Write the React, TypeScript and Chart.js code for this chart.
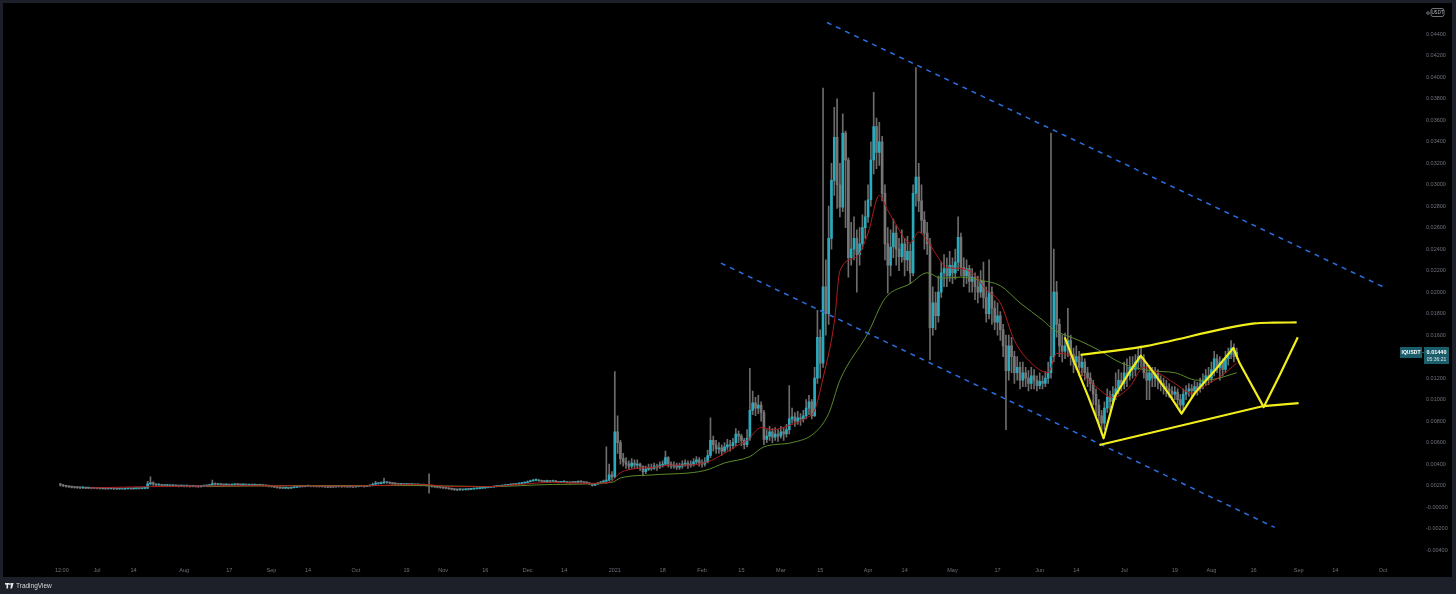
import React, { useEffect, useRef } from 'react';
import { Chart, registerables } from 'chart.js';

Chart.register(...registerables);

// ---- time axis (days since 2020-07-01) ----
const xTickDays = [-12.5, 0, 13, 31, 47, 62, 75, 92, 110, 123, 138, 153, 166, 184, 201, 215, 229, 243, 257, 274, 287, 304, 320, 335, 348, 365, 383, 396, 411, 427, 440, 457];
const xTickLabels = ['12:00', 'Jul', '14', 'Aug', '17', 'Sep', '14', 'Oct', '19', 'Nov', '16', 'Dec', '14', '2021', '18', 'Feb', '15', 'Mar', '15', 'Apr', '14', 'May', '17', 'Jun', '14', 'Jul', '19', 'Aug', '16', 'Sep', '14', 'Oct'];

const yTickValues = [-0.004, -0.002, 0, 0.002, 0.004, 0.006, 0.008, 0.010, 0.012, 0.014, 0.016, 0.018, 0.020, 0.022, 0.024, 0.026, 0.028, 0.030, 0.032, 0.034, 0.036, 0.038, 0.040, 0.042, 0.044];
const yTickLabels = ['-0.00400', '-0.00200', '-0.00000', '0.00200', '0.00400', '0.00600', '0.00800', '0.01000', '0.01200', '0.01400', '0.01600', '0.01800', '0.02000', '0.02200', '0.02400', '0.02600', '0.02800', '0.03000', '0.03200', '0.03400', '0.03600', '0.03800', '0.04000', '0.04200', '0.04400'];

// daily candles, day -13 .. 405
const firstDay = -13;
const firstOpen = 0.0021;
const closes = [
  0.00205, 0.00198, 0.00192, 0.00188, 0.00185, 0.00182, 0.00180, 0.00178, 0.00180, 0.00176,
  0.00178, 0.00175, 0.00177, 0.00174, 0.00172, 0.00174, 0.00171, 0.00170, 0.00172, 0.00169,
  0.00168, 0.00170, 0.00168, 0.00170, 0.00172, 0.00170, 0.00171, 0.00173, 0.00172, 0.00174,
  0.00175, 0.00215, 0.00225, 0.00212, 0.00205, 0.00208, 0.00202, 0.00200, 0.00203, 0.00198,
  0.00200, 0.00197, 0.00195, 0.00198, 0.00194, 0.00196, 0.00192, 0.00195, 0.00193, 0.00190,
  0.00194, 0.00196, 0.00200, 0.00205, 0.00218, 0.00210, 0.00212, 0.00208, 0.00206, 0.00209,
  0.00205, 0.00207, 0.00210, 0.00208, 0.00206, 0.00209, 0.00205, 0.00207, 0.00204, 0.00206,
  0.00203, 0.00205, 0.00200, 0.00198, 0.00195, 0.00190, 0.00186, 0.00182, 0.00178, 0.00176,
  0.00178, 0.00175, 0.00180, 0.00183, 0.00188, 0.00192, 0.00190, 0.00194, 0.00196, 0.00193,
  0.00195, 0.00192, 0.00190, 0.00193, 0.00188, 0.00186, 0.00189, 0.00187, 0.00190, 0.00192,
  0.00189, 0.00191, 0.00188, 0.00190, 0.00187, 0.00190, 0.00193, 0.00195, 0.00192, 0.00196,
  0.00200, 0.00212, 0.00222, 0.00218, 0.00225, 0.00232, 0.00228, 0.00224, 0.00218, 0.00215,
  0.00212, 0.00214, 0.00210, 0.00212, 0.00208, 0.00210, 0.00206, 0.00207, 0.00204, 0.00205,
  0.00202, 0.00195, 0.00192, 0.00188, 0.00184, 0.00182, 0.00178, 0.00175, 0.00170, 0.00166,
  0.00162, 0.00160, 0.00163, 0.00161, 0.00165, 0.00164, 0.00168, 0.00170, 0.00172, 0.00175,
  0.00178, 0.00180, 0.00184, 0.00186, 0.00190, 0.00193, 0.00196, 0.00198, 0.00202, 0.00205,
  0.00210, 0.00208, 0.00214, 0.00218, 0.00222, 0.00226, 0.00235, 0.00242, 0.00248, 0.00250,
  0.00245, 0.00240, 0.00236, 0.00242, 0.00238, 0.00244, 0.00235, 0.00230, 0.00233, 0.00236,
  0.00230, 0.00226, 0.00232, 0.00230, 0.00236, 0.00234, 0.00228, 0.00225, 0.00215, 0.00202,
  0.00212, 0.00222, 0.00232, 0.00240,
  0.0025, 0.0030, 0.0028, 0.0070, 0.0060, 0.0045, 0.0042, 0.0040, 0.0038, 0.0041,
  0.0039, 0.0040, 0.0038, 0.0033, 0.0035, 0.0037, 0.0036, 0.0038, 0.0037, 0.0039,
  0.0040, 0.0046, 0.0040, 0.0038, 0.0039, 0.0037, 0.0038, 0.0040, 0.0041, 0.0039,
  0.0040, 0.0042, 0.0044, 0.0041, 0.0040, 0.0042, 0.0048, 0.0062, 0.0058, 0.0054,
  0.0055, 0.0052, 0.0056, 0.0058, 0.0057, 0.0060, 0.0068, 0.0066, 0.0062, 0.0058,
  0.0064, 0.0090, 0.0097, 0.0092, 0.0095, 0.0088, 0.0063, 0.0066, 0.0070, 0.0065,
  0.0068, 0.0066, 0.0070, 0.0068, 0.0072, 0.0082, 0.0084, 0.0080, 0.0083, 0.0082,
  0.0085, 0.0092, 0.0098, 0.0085, 0.0120, 0.0158, 0.0134, 0.0205, 0.0180, 0.0250,
  0.0304, 0.0344, 0.0300, 0.0279, 0.0348, 0.0323, 0.0232, 0.0240, 0.0250, 0.0235,
  0.0245, 0.0260, 0.0270, 0.0286, 0.0323, 0.0354, 0.0330, 0.0340, 0.0292, 0.0245,
  0.0225, 0.0242, 0.0255, 0.0240, 0.0233, 0.0245, 0.0230, 0.0238, 0.0218, 0.0292,
  0.0307, 0.0285, 0.0267, 0.0255, 0.0245, 0.0167, 0.0190, 0.0178, 0.0200, 0.0218,
  0.0222, 0.0215, 0.0225, 0.0218, 0.0228, 0.0251, 0.0223, 0.0215, 0.0222, 0.0210,
  0.0214, 0.0205, 0.0200, 0.0210, 0.0195, 0.0180, 0.0200, 0.0185, 0.0172, 0.0178,
  0.0165, 0.0150, 0.0127, 0.0150, 0.0140, 0.0125, 0.0130, 0.0118, 0.0125, 0.0120,
  0.0115, 0.0122, 0.0118, 0.0113, 0.0117, 0.0115, 0.0120, 0.0125, 0.0140, 0.0200,
  0.0170, 0.0150, 0.0145, 0.0150, 0.0155, 0.0142, 0.0135, 0.0140, 0.0130, 0.0135,
  0.0125, 0.0120, 0.0115, 0.0105, 0.0095, 0.0085, 0.0078, 0.0092, 0.0102, 0.0098,
  0.0105, 0.0110, 0.0118, 0.0115, 0.0125, 0.0122, 0.0130, 0.0128, 0.0135, 0.0140,
  0.0138, 0.0125, 0.0118, 0.0125, 0.0120, 0.0124, 0.0118, 0.0115, 0.0112, 0.0110,
  0.0108, 0.0105, 0.0107, 0.0100, 0.0095, 0.0105, 0.0108, 0.0110, 0.0108, 0.0112,
  0.0110, 0.0115, 0.0118, 0.0122, 0.0120, 0.0128, 0.0138, 0.0130, 0.0135, 0.0128,
  0.0138, 0.0142, 0.0148, 0.0140, 0.0144,
];
const highs = [
  0.00220, 0.00210, 0.00200, 0.00195, 0.00192, 0.00190, 0.00186, 0.00185, 0.00186, 0.00184,
  0.00184, 0.00181, 0.00182, 0.00180, 0.00178, 0.00179, 0.00177, 0.00175, 0.00177, 0.00176,
  0.00173, 0.00175, 0.00174, 0.00175, 0.00177, 0.00176, 0.00176, 0.00178, 0.00178, 0.00179,
  0.00180, 0.00240, 0.00280, 0.00235, 0.00218, 0.00215, 0.00212, 0.00208, 0.00210, 0.00207,
  0.00206, 0.00205, 0.00202, 0.00204, 0.00202, 0.00202, 0.00200, 0.00201, 0.00200, 0.00198,
  0.00200, 0.00202, 0.00206, 0.00212, 0.00250, 0.00225, 0.00218, 0.00216, 0.00212, 0.00214,
  0.00212, 0.00213, 0.00216, 0.00215, 0.00212, 0.00214, 0.00213, 0.00212, 0.00211, 0.00212,
  0.00210, 0.00210, 0.00208, 0.00205, 0.00203, 0.00198, 0.00194, 0.00190, 0.00186, 0.00183,
  0.00184, 0.00183, 0.00186, 0.00189, 0.00194, 0.00198, 0.00197, 0.00199, 0.00202, 0.00200,
  0.00200, 0.00199, 0.00196, 0.00198, 0.00196, 0.00192, 0.00195, 0.00194, 0.00196, 0.00198,
  0.00196, 0.00197, 0.00195, 0.00196, 0.00194, 0.00196, 0.00199, 0.00201, 0.00200, 0.00202,
  0.00206, 0.00222, 0.00240, 0.00228, 0.00235, 0.00270, 0.00238, 0.00233, 0.00228, 0.00222,
  0.00220, 0.00220, 0.00218, 0.00218, 0.00216, 0.00216, 0.00214, 0.00213, 0.00212, 0.00212,
  0.00210, 0.00310, 0.00205, 0.00196, 0.00192, 0.00190, 0.00186, 0.00182, 0.00178, 0.00172,
  0.00170, 0.00167, 0.00170, 0.00168, 0.00171, 0.00170, 0.00174, 0.00176, 0.00178, 0.00181,
  0.00184, 0.00186, 0.00190, 0.00192, 0.00196, 0.00199, 0.00202, 0.00205, 0.00208, 0.00212,
  0.00216, 0.00215, 0.00220, 0.00225, 0.00230, 0.00234, 0.00245, 0.00252, 0.00258, 0.00262,
  0.00256, 0.00250, 0.00246, 0.00250, 0.00248, 0.00252, 0.00248, 0.00240, 0.00240, 0.00243,
  0.00240, 0.00235, 0.00240, 0.00238, 0.00244, 0.00242, 0.00238, 0.00232, 0.00228, 0.00218,
  0.00220, 0.00230, 0.00240, 0.00250,
  0.0056, 0.0040, 0.0033, 0.0126, 0.0085, 0.0062, 0.0050, 0.0046, 0.0043, 0.0045,
  0.0044, 0.0044, 0.0041, 0.0038, 0.0038, 0.0040, 0.0040, 0.0041, 0.0040, 0.0042,
  0.0043, 0.0052, 0.0047, 0.0042, 0.0042, 0.0041, 0.0041, 0.0043, 0.0044, 0.0043,
  0.0043, 0.0045, 0.0047, 0.0046, 0.0044, 0.0046, 0.0053, 0.0083, 0.0066, 0.0062,
  0.0060, 0.0058, 0.0060, 0.0063, 0.0062, 0.0064, 0.0073, 0.0071, 0.0068, 0.0064,
  0.0072, 0.0129, 0.0108, 0.0102, 0.0104, 0.0098, 0.0090, 0.0072, 0.0075, 0.0073,
  0.0074, 0.0072, 0.0075, 0.0074, 0.0077, 0.0113, 0.0092, 0.0088, 0.0089, 0.0087,
  0.0090, 0.0100, 0.0104, 0.0100, 0.0130, 0.0183, 0.0165, 0.0390, 0.0230, 0.0280,
  0.0320, 0.0372, 0.0380, 0.0320, 0.0366, 0.0350, 0.0325, 0.0265, 0.0270, 0.0258,
  0.0260, 0.0272, 0.0285, 0.0300, 0.0340, 0.0386, 0.0362, 0.0358, 0.0345, 0.0300,
  0.0260, 0.0258, 0.0268, 0.0262, 0.0250, 0.0258, 0.0250, 0.0252, 0.0245, 0.0300,
  0.0409, 0.0320, 0.0300, 0.0275, 0.0265, 0.0250, 0.0205, 0.0200, 0.0215, 0.0228,
  0.0235, 0.0232, 0.0238, 0.0232, 0.0240, 0.0270, 0.0255, 0.0232, 0.0230, 0.0225,
  0.0222, 0.0218, 0.0215, 0.0220, 0.0228, 0.0205, 0.0230, 0.0205, 0.0192, 0.0190,
  0.0182, 0.0170, 0.0160, 0.0160, 0.0158, 0.0145, 0.0140, 0.0135, 0.0135, 0.0130,
  0.0127, 0.0130, 0.0128, 0.0122, 0.0125, 0.0122, 0.0126, 0.0135, 0.0348, 0.0240,
  0.0210, 0.0175, 0.0160, 0.0162, 0.0185, 0.0160, 0.0148, 0.0150, 0.0145, 0.0142,
  0.0138, 0.0130, 0.0125, 0.0118, 0.0110, 0.0100, 0.0090, 0.0098, 0.0110, 0.0108,
  0.0112, 0.0125, 0.0128, 0.0125, 0.0135, 0.0138, 0.0140, 0.0140, 0.0142, 0.0148,
  0.0150, 0.0142, 0.0132, 0.0132, 0.0130, 0.0130, 0.0128, 0.0122, 0.0120, 0.0118,
  0.0115, 0.0112, 0.0112, 0.0110, 0.0105, 0.0110, 0.0113, 0.0115, 0.0114, 0.0117,
  0.0116, 0.0120, 0.0124, 0.0128, 0.0130, 0.0135, 0.0145, 0.0142, 0.0140, 0.0138,
  0.0145, 0.0148, 0.0155, 0.0152, 0.0148,
];
const lows = [
  0.00195, 0.00190, 0.00185, 0.00182, 0.00179, 0.00176, 0.00174, 0.00172, 0.00173, 0.00170,
  0.00170, 0.00169, 0.00170, 0.00168, 0.00166, 0.00167, 0.00165, 0.00164, 0.00166, 0.00163,
  0.00162, 0.00164, 0.00163, 0.00164, 0.00166, 0.00165, 0.00165, 0.00167, 0.00167, 0.00168,
  0.00169, 0.00172, 0.00205, 0.00200, 0.00198, 0.00200, 0.00195, 0.00193, 0.00195, 0.00190,
  0.00192, 0.00190, 0.00188, 0.00190, 0.00187, 0.00188, 0.00185, 0.00187, 0.00186, 0.00183,
  0.00186, 0.00189, 0.00192, 0.00197, 0.00202, 0.00203, 0.00204, 0.00200, 0.00199, 0.00201,
  0.00198, 0.00200, 0.00202, 0.00200, 0.00199, 0.00201, 0.00198, 0.00199, 0.00197, 0.00198,
  0.00196, 0.00197, 0.00193, 0.00191, 0.00188, 0.00184, 0.00180, 0.00176, 0.00172, 0.00170,
  0.00171, 0.00169, 0.00173, 0.00177, 0.00181, 0.00185, 0.00184, 0.00187, 0.00189, 0.00187,
  0.00188, 0.00185, 0.00184, 0.00186, 0.00182, 0.00180, 0.00183, 0.00181, 0.00184, 0.00186,
  0.00183, 0.00185, 0.00182, 0.00184, 0.00181, 0.00184, 0.00187, 0.00189, 0.00186, 0.00189,
  0.00193, 0.00198, 0.00208, 0.00210, 0.00214, 0.00220, 0.00220, 0.00216, 0.00210, 0.00208,
  0.00205, 0.00206, 0.00203, 0.00204, 0.00201, 0.00203, 0.00199, 0.00200, 0.00197, 0.00198,
  0.00195, 0.00130, 0.00185, 0.00182, 0.00178, 0.00176, 0.00172, 0.00169, 0.00164, 0.00160,
  0.00155, 0.00153, 0.00156, 0.00155, 0.00158, 0.00158, 0.00162, 0.00164, 0.00166, 0.00169,
  0.00172, 0.00174, 0.00178, 0.00180, 0.00184, 0.00187, 0.00190, 0.00192, 0.00196, 0.00199,
  0.00203, 0.00202, 0.00207, 0.00211, 0.00215, 0.00219, 0.00224, 0.00233, 0.00240, 0.00243,
  0.00238, 0.00233, 0.00230, 0.00234, 0.00231, 0.00236, 0.00228, 0.00224, 0.00226, 0.00229,
  0.00223, 0.00220, 0.00224, 0.00224, 0.00228, 0.00227, 0.00222, 0.00218, 0.00208, 0.00195,
  0.00200, 0.00210, 0.00220, 0.00230,
  0.0022, 0.0024, 0.0025, 0.0027, 0.0050, 0.0040, 0.0038, 0.0036, 0.0035, 0.0036,
  0.0036, 0.0036, 0.0034, 0.0029, 0.0031, 0.0034, 0.0034, 0.0035, 0.0034, 0.0036,
  0.0037, 0.0039, 0.0037, 0.0036, 0.0036, 0.0035, 0.0035, 0.0036, 0.0038, 0.0036,
  0.0037, 0.0038, 0.0040, 0.0038, 0.0037, 0.0038, 0.0041, 0.0046, 0.0052, 0.0050,
  0.0050, 0.0048, 0.0051, 0.0053, 0.0052, 0.0054, 0.0057, 0.0060, 0.0057, 0.0054,
  0.0056, 0.0062, 0.0086, 0.0085, 0.0087, 0.0080, 0.0058, 0.0060, 0.0062, 0.0060,
  0.0062, 0.0061, 0.0064, 0.0062, 0.0065, 0.0068, 0.0078, 0.0075, 0.0077, 0.0076,
  0.0079, 0.0082, 0.0086, 0.0082, 0.0084, 0.0115, 0.0120, 0.0130, 0.0160, 0.0170,
  0.0240, 0.0290, 0.0278, 0.0270, 0.0275, 0.0260, 0.0214, 0.0225, 0.0230, 0.0200,
  0.0225, 0.0240, 0.0250, 0.0265, 0.0280, 0.0310, 0.0315, 0.0318, 0.0285, 0.0230,
  0.0199, 0.0215, 0.0232, 0.0225, 0.0220, 0.0228, 0.0215, 0.0220, 0.0208, 0.0215,
  0.0280, 0.0275, 0.0255, 0.0240, 0.0235, 0.0137, 0.0160, 0.0165, 0.0172, 0.0195,
  0.0205, 0.0205, 0.0210, 0.0208, 0.0212, 0.0220, 0.0215, 0.0205, 0.0208, 0.0200,
  0.0200, 0.0193, 0.0190, 0.0195, 0.0185, 0.0172, 0.0175, 0.0170, 0.0165, 0.0160,
  0.0155, 0.0140, 0.0072, 0.0118, 0.0125, 0.0115, 0.0118, 0.0110, 0.0112, 0.0112,
  0.0108, 0.0110, 0.0110, 0.0108, 0.0110, 0.0110, 0.0112, 0.0115, 0.0120, 0.0135,
  0.0158, 0.0140, 0.0135, 0.0138, 0.0140, 0.0132, 0.0125, 0.0128, 0.0122, 0.0122,
  0.0118, 0.0112, 0.0108, 0.0095, 0.0085, 0.0075, 0.0068, 0.0072, 0.0088, 0.0090,
  0.0095, 0.0100, 0.0105, 0.0108, 0.0110, 0.0112, 0.0118, 0.0120, 0.0122, 0.0128,
  0.0130, 0.0120, 0.0100, 0.0100, 0.0112, 0.0112, 0.0110, 0.0108, 0.0105, 0.0103,
  0.0102, 0.0100, 0.0100, 0.0094, 0.0088, 0.0090, 0.0100, 0.0103, 0.0102, 0.0104,
  0.0104, 0.0107, 0.0110, 0.0113, 0.0114, 0.0116, 0.0122, 0.0125, 0.0118, 0.0122,
  0.0125, 0.0132, 0.0138, 0.0135, 0.0138,
];

// moving averages
const redMaDays = [-3, 19, 54, 90, 115, 127, 139, 150, 162, 174, 182, 186, 192, 198, 204, 210, 217, 223, 228, 231, 236, 240, 246, 252, 255, 258, 262, 264, 270, 274, 278, 281, 283, 289, 292, 295, 298, 302, 307, 311, 316, 321, 326, 332, 338, 341, 345, 349, 355, 361, 367, 372, 377, 383, 389, 395, 399, 405];
const redMaVals = [0.00177, 0.0019, 0.00198, 0.00195, 0.0021, 0.0019, 0.0019, 0.0021, 0.0023, 0.0022, 0.0023, 0.0032, 0.0036, 0.0037, 0.0039, 0.0039, 0.0042, 0.0050, 0.0058, 0.0062, 0.0074, 0.0072, 0.0076, 0.0083, 0.0090, 0.0120, 0.0172, 0.0220, 0.0233, 0.0255, 0.0290, 0.0276, 0.0267, 0.0246, 0.0256, 0.0248, 0.0236, 0.0223, 0.0222, 0.0218, 0.0202, 0.0190, 0.0155, 0.0134, 0.0125, 0.0143, 0.0142, 0.0127, 0.0112, 0.0102, 0.0112, 0.0130, 0.0125, 0.0115, 0.0106, 0.0115, 0.0121, 0.0134];
const greenMaDays = [39, 72, 115, 139, 162, 183, 186, 198, 216, 223, 232, 237, 247, 255, 260, 264, 274, 280, 289, 295, 300, 307, 314, 321, 328, 336, 340, 349, 356, 364, 374, 383, 391, 397, 405];
const greenMaVals = [0.0019, 0.0020, 0.0020, 0.0019, 0.0021, 0.0023, 0.0027, 0.0030, 0.0034, 0.0041, 0.0047, 0.0056, 0.0060, 0.0069, 0.0087, 0.0118, 0.0162, 0.0194, 0.0208, 0.0218, 0.0213, 0.0214, 0.0211, 0.0206, 0.0190, 0.0174, 0.0165, 0.0155, 0.0146, 0.0134, 0.0127, 0.0125, 0.0118, 0.0119, 0.0125];

// drawings
const upperTrendDays = [259.4, 457];
const upperTrendVals = [0.0451, 0.0205];
const lowerTrendDays = [221.7, 418.5];
const lowerTrendVals = [0.0227, -0.0019];
const zigzagDays = [343.9, 347.4, 352.2, 355.8, 357.7, 361.7, 366.5, 370.9, 375.8, 380.7, 385.4, 390.1, 397.2, 403.8, 406, 414.6, 420.5, 426.7];
const zigzagVals = [0.0158, 0.0134, 0.0103, 0.0078, 0.0064, 0.0103, 0.0124, 0.0141, 0.0124, 0.0106, 0.0087, 0.0106, 0.0127, 0.0148, 0.0134, 0.0093, 0.0124, 0.0158];
const channelTopDays = [349.5, 371.2, 411.4, 418, 426.3];
const channelTopVals = [0.01417, 0.01491, 0.01709, 0.01716, 0.01718];
const channelBottomDays = [356.2, 414.5, 427];
const channelBottomVals = [0.00577, 0.0094, 0.00967];

const symbol = 'IQUSDT';
const lastPriceText = '0.01440';
const countdownText = '05:36:21';
const currencyText = 'USDT';
const brandText = 'TradingView';

const pts = (xs: number[], ys: number[]) => xs.map((x, i) => ({ x, y: ys[i] }));

export default function App() {
  const ref = useRef<HTMLCanvasElement>(null);

  useEffect(() => {
    const canvas = ref.current;
    if (!canvas) return;

    const candleDays = closes.map((_c, i) => firstDay + i);
    const opens = closes.map((c, i) => (i === 0 ? firstOpen : closes[i - 1]));
    const isUp = closes.map((c, i) => c >= opens[i]);
    const bodyData = candleDays.map((d, i) => ({ x: d, y: [Math.min(opens[i], closes[i]), Math.max(opens[i], closes[i])] }));
    const wickData = candleDays.map((d, i) => ({
      x: d,
      y: [Math.min(lows[i], opens[i], closes[i]), Math.max(highs[i], opens[i], closes[i])],
    }));
    const upBody = '#2aaabd';
    const downBody = '#767676';
    const wickColor = '#6c6c6c';

    const frame = {
      id: 'frame',
      beforeDraw(chart: any) {
        const ctx = chart.ctx;
        ctx.save();
        ctx.fillStyle = '#1e2029';
        ctx.fillRect(0, 0, chart.width, chart.height);
        ctx.fillStyle = '#000000';
        ctx.fillRect(3, 3, 1449, 574);
        ctx.restore();
      },
      afterDraw(chart: any) {
        const ctx = chart.ctx;
        const ys = chart.scales.y;
        ctx.save();
        // last price tag
        const py = Math.round(ys.getPixelForValue(closes[closes.length - 1]));
        ctx.fillStyle = '#1b5d6a';
        ctx.fillRect(1400, py - 5, 22, 11);
        ctx.fillRect(1424, py - 5, 25, 17);
        ctx.strokeStyle = '#1b5d6a';
        ctx.lineWidth = 1;
        ctx.beginPath();
        ctx.moveTo(1422, py + 0.5);
        ctx.lineTo(1424, py + 0.5);
        ctx.stroke();
        ctx.fillStyle = '#ffffff';
        ctx.textBaseline = 'middle';
        ctx.textAlign = 'center';
        ctx.font = 'bold 5px "Liberation Sans", Arial, sans-serif';
        ctx.fillText(symbol, 1411, py + 0.5);
        ctx.font = 'bold 5.5px "Liberation Sans", Arial, sans-serif';
        ctx.fillText(lastPriceText, 1436.5, py + 0.5);
        ctx.font = '5px "Liberation Sans", Arial, sans-serif';
        ctx.fillStyle = '#d8e6ea';
        ctx.fillText(countdownText, 1436.5, py + 7.5);

        // currency box top-right
        ctx.strokeStyle = '#8c8f98';
        ctx.lineWidth = 0.8;
        ctx.beginPath();
        ctx.roundRect(1431, 8.5, 13, 8, 2);
        ctx.stroke();
        ctx.fillStyle = '#b9bcc4';
        ctx.font = '4.5px "Liberation Sans", Arial, sans-serif';
        ctx.fillText(currencyText, 1437.5, 12.8);
        ctx.beginPath();
        ctx.arc(1428, 13, 1.3, 0, Math.PI * 2);
        ctx.stroke();

        // brand
        ctx.fillStyle = '#e8e9ec';
        ctx.fillRect(5, 583, 4, 1.6);
        ctx.fillRect(6.5, 583, 1.6, 5.5);
        ctx.beginPath();
        ctx.arc(10, 584, 0.9, 0, Math.PI * 2);
        ctx.fill();
        ctx.beginPath();
        ctx.moveTo(11.2, 583);
        ctx.lineTo(13.6, 583);
        ctx.lineTo(12, 588.5);
        ctx.lineTo(10.4, 588.5);
        ctx.closePath();
        ctx.fill();
        ctx.textAlign = 'left';
        ctx.fillStyle = '#d8d9dd';
        ctx.font = '6.5px "Liberation Sans", Arial, sans-serif';
        ctx.fillText(brandText, 16, 586);
        ctx.restore();
      },
    };

    const tickFont = { family: '"Liberation Sans", Arial, sans-serif', size: 5.5 };

    const chart = new Chart(canvas, {
      type: 'bar',
      data: {
        datasets: [
          {
            type: 'bar',
            data: wickData as any,
            backgroundColor: wickColor,
            barThickness: 1,
            grouped: false,
            order: 5,
          } as any,
          {
            type: 'bar',
            data: bodyData as any,
            backgroundColor: isUp.map((u) => (u ? upBody : downBody)),
            barThickness: 2,
            minBarLength: 1,
            grouped: false,
            order: 4,
          } as any,
          {
            type: 'line',
            data: pts(redMaDays, redMaVals),
            borderColor: '#b01c1c',
            borderWidth: 1,
            pointRadius: 0,
            cubicInterpolationMode: 'monotone',
            order: 3,
          } as any,
          {
            type: 'line',
            data: pts(greenMaDays, greenMaVals),
            borderColor: '#5b8a2c',
            borderWidth: 1,
            pointRadius: 0,
            cubicInterpolationMode: 'monotone',
            order: 3,
          } as any,
          {
            type: 'line',
            data: pts(upperTrendDays, upperTrendVals),
            borderColor: '#2a6fe0',
            borderWidth: 1.5,
            borderDash: [5, 5],
            pointRadius: 0,
            order: 2,
          } as any,
          {
            type: 'line',
            data: pts(lowerTrendDays, lowerTrendVals),
            borderColor: '#2a6fe0',
            borderWidth: 1.5,
            borderDash: [5, 5],
            pointRadius: 0,
            order: 2,
          } as any,
          {
            type: 'line',
            data: pts(channelTopDays, channelTopVals),
            borderColor: '#f2ee1c',
            borderWidth: 2.2,
            pointRadius: 0,
            cubicInterpolationMode: 'monotone',
            order: 1,
          } as any,
          {
            type: 'line',
            data: pts(channelBottomDays, channelBottomVals),
            borderColor: '#f2ee1c',
            borderWidth: 2.2,
            pointRadius: 0,
            tension: 0,
            order: 1,
          } as any,
          {
            type: 'line',
            data: pts(zigzagDays, zigzagVals),
            borderColor: '#f2ee1c',
            borderWidth: 2.2,
            pointRadius: 0,
            tension: 0,
            borderJoinStyle: 'round',
            order: 1,
          } as any,
        ],
      },
      options: {
        responsive: false,
        animation: false,
        devicePixelRatio: 1,
        layout: { padding: { left: 3, top: 3, right: 5, bottom: 17 } },
        plugins: { legend: { display: false }, tooltip: { enabled: false } },
        events: [],
        scales: {
          x: {
            type: 'linear',
            offset: false,
            min: -33.4,
            max: 464.8,
            grid: { display: false, drawTicks: false },
            border: { display: false },
            afterBuildTicks: (s: any) => { s.ticks = xTickDays.map((v) => ({ value: v })); },
            afterFit: (s: any) => { s.height = 17; },
            ticks: {
              autoSkip: false,
              maxRotation: 0,
              padding: 7,
              color: '#6f727b',
              font: tickFont,
              callback: (_v: any, i: number) => xTickLabels[i],
            },
          },
          y: {
            type: 'linear',
            position: 'right',
            min: -0.00493,
            max: 0.046884,
            grid: { display: true, drawOnChartArea: false, drawTicks: true, tickLength: 21, color: 'rgba(0,0,0,0)' },
            border: { display: false },
            afterBuildTicks: (s: any) => { s.ticks = yTickValues.map((v) => ({ value: v })); },
            afterFit: (s: any) => { s.width = 46; },
            ticks: {
              autoSkip: false,
              padding: 0,
              color: '#6f727b',
              font: tickFont,
              callback: (_v: any, i: number) => yTickLabels[i],
            },
          },
        },
      } as any,
      plugins: [frame],
    });

    return () => chart.destroy();
  }, []);

  return (
    <div style={{ position: 'fixed', left: 0, top: 0, width: 1456, height: 594, background: '#1e2029' }}>
      <canvas ref={ref} width={1456} height={594} style={{ display: 'block', width: 1456, height: 594 }} />
    </div>
  );
}
